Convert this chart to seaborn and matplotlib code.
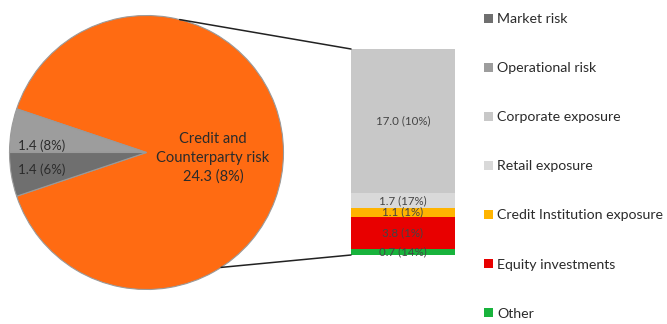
import numpy as np
import matplotlib
matplotlib.use("Agg")
import matplotlib.pyplot as plt
from matplotlib.patches import ConnectionPatch, Patch
import seaborn as sns

# ---- data ----
pie_labels = ["Credit and\nCounterparty risk", "Operational risk", "Market risk"]
pie_values = [24.3, 1.4, 1.4]
pie_pcts = [8, 8, 6]
pie_colors = ["#FF6B12", "#9D9D9D", "#6F6F6F"]

bar_labels = ["Other", "Equity investments", "Credit Institution exposure",
              "Retail exposure", "Corporate exposure"]
bar_values = [0.7, 3.8, 1.1, 1.7, 17.0]
bar_pcts = [14, 1, 1, 17, 10]
bar_colors = ["#18B33C", "#E80000", "#FFB400", "#D9D9D9", "#C8C8C8"]

legend_order = ["Market risk", "Operational risk", "Corporate exposure",
                "Retail exposure", "Credit Institution exposure",
                "Equity investments", "Other"]

# ---- style ----
sns.set_theme(style="white")
plt.rcParams["font.family"] = ["Lato", "DejaVu Sans"]
TXT = "#2b2b2b"

W, H = 667, 324
fig = plt.figure(figsize=(W / 100, H / 100), dpi=100)

# ---- pie ----
cx, cy, r = 146.5, 152.5, 137
ax_pie = fig.add_axes([(cx - r) / W, (H - cy - r) / H, 2 * r / W, 2 * r / H])
total = sum(pie_values)
start = -pie_values[0] / total * 180
wedges, _ = ax_pie.pie(pie_values, colors=pie_colors, startangle=start,
                       counterclock=True,
                       wedgeprops=dict(edgecolor="#9a9a9a", linewidth=0.8))
ax_pie.set_xlim(-1, 1)
ax_pie.set_ylim(-1, 1)
ax_pie.set_aspect("equal")
ax_pie.axis("off")

for i, w in enumerate(wedges):
    if i == 0:
        ax_pie.text(0.485, -0.04, f"{pie_labels[0]}\n{pie_values[0]:.1f} ({pie_pcts[0]}%)",
                    ha="center", va="center", fontsize=10.5, color=TXT,
                    linespacing=1.45)
    else:
        mid = (w.theta1 + w.theta2) / 2
        ang = np.deg2rad(180 + (mid - 180) * 0.7)
        ax_pie.text(0.77 * np.cos(ang), 0.77 * np.sin(ang) - 0.035,
                    f"{pie_values[i]:.1f} ({pie_pcts[i]}%)",
                    ha="center", va="center", fontsize=9.5, color=TXT)

# ---- stacked bar ----
bx0, bx1, by0, by1 = 351, 455, 49, 255
ax_bar = fig.add_axes([bx0 / W, (H - by1) / H, (bx1 - bx0) / W, (by1 - by0) / H])
cum = np.cumsum(bar_values)
for i in reversed(range(len(bar_values))):
    sns.barplot(x=["b"], y=[cum[i]], color=bar_colors[i], width=1,
                saturation=1, linewidth=0, ax=ax_bar)
for i, v in enumerate(bar_values):
    ax_bar.text(0, cum[i] - v / 2, f"{v:.1f} ({bar_pcts[i]}%)",
                ha="center", va="center", fontsize=8.3, color="#444444")
ax_bar.set_xlim(-0.5, 0.5)
ax_bar.set_ylim(0, cum[-1])
ax_bar.axis("off")

# ---- connector lines ----
for ang, yb in [(76, cum[-1]), (-57, 0)]:
    a = np.deg2rad(ang)
    con = ConnectionPatch(xyA=(np.cos(a), np.sin(a)), coordsA=ax_pie.transData,
                          xyB=(-0.5, yb), coordsB=ax_bar.transData,
                          color="#222222", lw=1.1)
    fig.add_artist(con)

# ---- legend ----
cmap = dict(zip(pie_labels[1:], pie_colors[1:]))
cmap.update(dict(zip(bar_labels, bar_colors)))
handles = [Patch(facecolor=cmap[l], edgecolor="none") for l in legend_order]
fig.legend(handles, legend_order, loc="upper left",
           bbox_to_anchor=(484 / W, 1 - 13 / H), frameon=False, fontsize=10.2,
           handlelength=0.6, handleheight=0.6, handletextpad=0.35,
           labelspacing=2.62, borderpad=0, borderaxespad=0, labelcolor=TXT)

fig.savefig("out.png", dpi=100)
